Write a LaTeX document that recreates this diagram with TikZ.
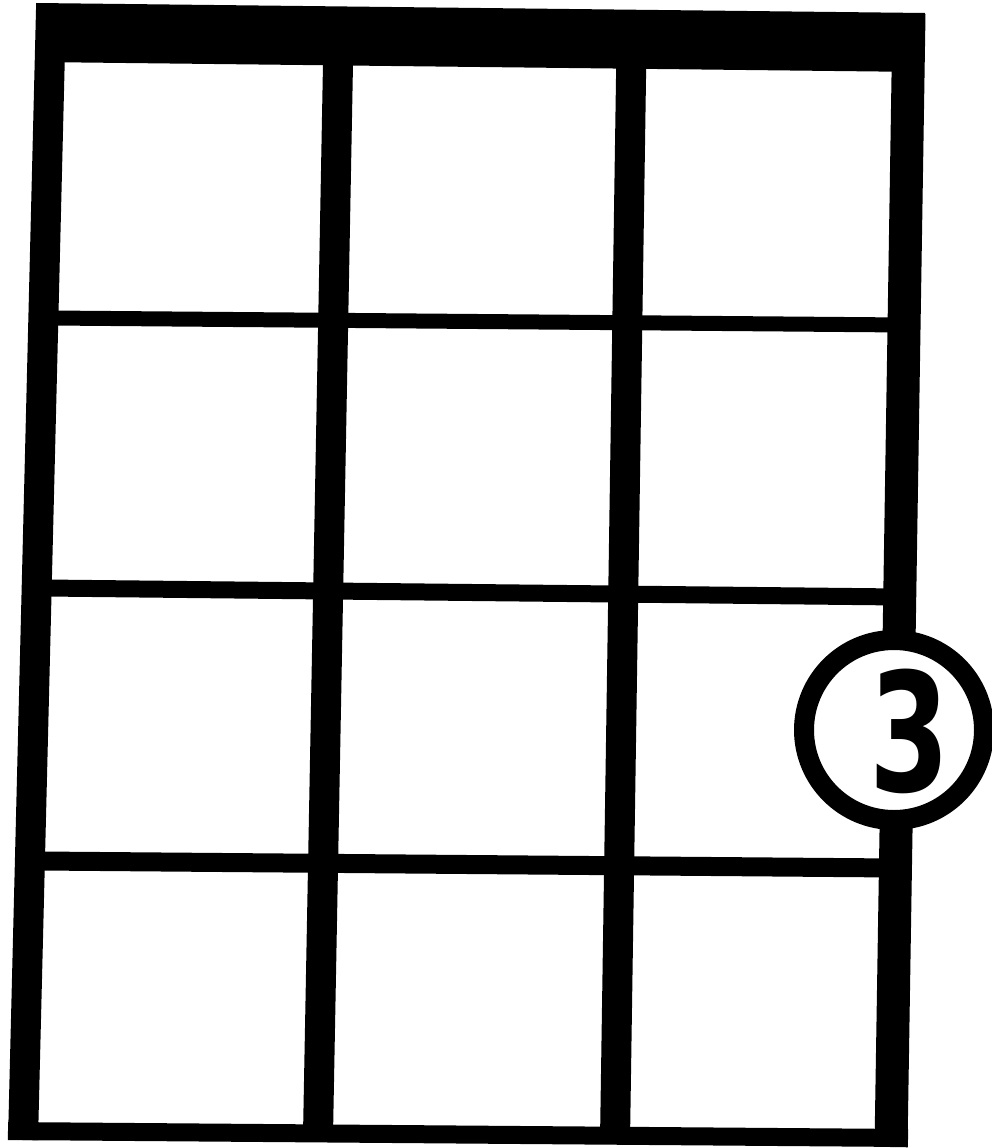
\documentclass[tikz,border=0pt]{standalone}
\usepackage{graphicx}
\usepackage{fontspec}
\newfontfamily\digitfont{DejaVu Sans}
\begin{document}
\begin{tikzpicture}[x=1pt,y=-1pt,
  stringline/.style={line width=30pt, black},
  fretline/.style={line width=16pt, black},
  fingerdot/.style={circle, draw=black, line width=20pt, fill=white, minimum size=180pt, inner sep=0pt},
  fingerlabel/.style={inner sep=0pt, font=\digitfont\bfseries\fontsize{165}{165}\selectfont}]
\useasboundingbox (0,0) rectangle (992,1148);
\fill[white] (0,0) rectangle (992,1148);
% nut
\fill[black] (36,3) -- (925,13) -- (923,72) -- (37,62) -- cycle;
% strings
\draw[stringline] (51,10) -- (23,1140);
\draw[stringline] (339,10) -- (318,1135);
\draw[stringline] (632,12) -- (615,1140);
\draw[stringline, line width=33pt] (909,14) -- (891,1147);
% frets
\draw[fretline, line width=15pt] (50,318) -- (906,325);
\draw[fretline, line width=17pt] (45,588) -- (900,597);
\draw[fretline, line width=19pt] (40,861) -- (896,868);
\draw[fretline, line width=18pt] (8,1131) -- (908,1138);
% finger
\node[fingerdot] (dot) at (894,730) {};
\node[fingerlabel] (num) at (910,731) {\scalebox{0.7}[1]{3}};
\end{tikzpicture}
\end{document}
